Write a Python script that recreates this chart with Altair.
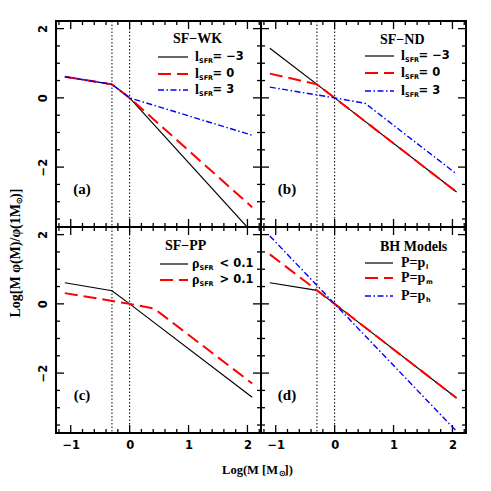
import altair as alt
import pandas as pd

# ---------------- data ----------------
X_DOMAIN = [-1.25, 2.23]
Y_DOMAIN = [-3.73, 2.22]
X_MAJOR = [-1, 0, 1, 2]
X_MINOR = [-1.2, -0.8, -0.6, -0.4, -0.2, 0.2, 0.4, 0.6, 0.8, 1.2, 1.4, 1.6, 1.8, 2.2]
Y_MAJOR = [-2, 0, 2]
Y_MINOR = [-3.5, -3, -2.5, -1.5, -1, -0.5, 0.5, 1, 1.5]
VLINES = [-0.3, 0.0]

# (a) SF-WK
A_BLACK_X = [-1.1, -0.3, 0.0, 2.08]
A_BLACK_Y = [0.61, 0.39, 0.0, -3.89]
A_RED_X = [-1.1, -0.3, 0.0, 2.08]
A_RED_Y = [0.61, 0.39, 0.0, -3.16]
A_BLUE_X = [-1.1, -0.3, 0.0, 2.08]
A_BLUE_Y = [0.61, 0.39, 0.0, -1.08]
# (b) SF-ND
B_BLACK_X = [-1.1, 0.0, 2.07]
B_BLACK_Y = [1.43, 0.0, -2.72]
B_RED_X = [-1.1, -0.3, 0.0, 2.07]
B_RED_Y = [0.70, 0.39, 0.0, -2.72]
B_BLUE_X = [-1.1, 0.0, 0.52, 2.07]
B_BLUE_Y = [0.31, 0.0, -0.16, -2.20]
# (c) SF-PP
C_BLACK_X = [-1.1, -0.3, 0.0, 2.08]
C_BLACK_Y = [0.61, 0.38, 0.0, -2.70]
C_RED_X = [-1.1, 0.0, 0.42, 2.08]
C_RED_Y = [0.31, 0.0, -0.14, -2.30]
# (d) BH Models
D_BLACK_X = [-1.1, -0.3, 0.0, 2.07]
D_BLACK_Y = [0.61, 0.39, 0.0, -2.72]
D_RED_X = [-1.1, 0.0, 2.07]
D_RED_Y = [1.43, 0.0, -2.72]
D_BLUE_X = [-1.1, 0.0, 2.08]
D_BLUE_Y = [1.96, 0.0, -3.70]

# ---------------- styling ----------------
W, H = 205, 206
SERIF = "Liberation Serif"
SANS = "DejaVu Sans"
STYLES = {
    "black": {"color": "black", "strokeWidth": 1.2},
    "red": {"color": "#ff0000", "strokeWidth": 2, "strokeDash": [13, 6]},
    "blue": {"color": "#0000ff", "strokeWidth": 1.4, "strokeDash": [6, 2.5, 1.5, 2.5]},
}
ONE = pd.DataFrame({"k": [0]})


def x_enc(show):
    if show:
        return alt.X("x:Q", title=None,
                     scale=alt.Scale(domain=X_DOMAIN, nice=False, zero=False),
                     axis=alt.Axis(values=X_MAJOR, ticks=False, tickSize=0, domain=False, grid=False,
                                   labelFont=SANS, labelFontWeight="bold", labelFontSize=11.5,
                                   labelColor="black", labelPadding=6, format="d",
                                   labelFlush=False, labelOverlap=False))
    return alt.X("x:Q", title=None, scale=alt.Scale(domain=X_DOMAIN, nice=False, zero=False), axis=None)


def y_enc(show):
    if show:
        return alt.Y("y:Q", title=None,
                     scale=alt.Scale(domain=Y_DOMAIN, nice=False, zero=False),
                     axis=alt.Axis(values=Y_MAJOR, ticks=False, tickSize=0, domain=False, grid=False,
                                   labelFont=SANS, labelFontWeight="bold", labelFontSize=11.5,
                                   labelColor="black", labelPadding=8, format="d",
                                   labelAngle=270, labelAlign="center", labelBaseline="bottom",
                                   labelFlush=False, labelOverlap=False))
    return alt.Y("y:Q", title=None, scale=alt.Scale(domain=Y_DOMAIN, nice=False, zero=False), axis=None)


def txt(text, x, y, font=SERIF, size=14, align="left", baseline="middle", angle=0):
    kw = dict(text=text, font=font, fontSize=size, fontWeight="bold", align=align,
              baseline=baseline, color="black")
    if angle:
        kw["angle"] = angle
    return alt.Chart(ONE).mark_text(**kw).encode(x=alt.value(x), y=alt.value(y))


def tick_layers(sx, sy):
    layers = []
    for vals, size in ((X_MAJOR, 16), (X_MINOR, 8)):
        df = pd.DataFrame({"x": vals * 2, "y": [Y_DOMAIN[0]] * len(vals) + [Y_DOMAIN[1]] * len(vals)})
        layers.append(alt.Chart(df).mark_tick(orient="vertical", size=size, thickness=1.3,
                                              color="black", opacity=1, clip=True)
                      .encode(x=x_enc(sx), y=y_enc(sy)))
    for vals, size in ((Y_MAJOR, 16), (Y_MINOR, 8)):
        df = pd.DataFrame({"y": vals * 2, "x": [X_DOMAIN[0]] * len(vals) + [X_DOMAIN[1]] * len(vals)})
        layers.append(alt.Chart(df).mark_tick(orient="horizontal", size=size, thickness=1.3,
                                              color="black", opacity=1, clip=True)
                      .encode(x=x_enc(sx), y=y_enc(sy)))
    return layers


def panel(series, legend, label, sx, sy, extra=()):
    layers = [alt.Chart(pd.DataFrame({"x": VLINES}))
              .mark_rule(color="black", strokeWidth=1, strokeDash=[1.5, 2])
              .encode(x=x_enc(sx))]
    layers += tick_layers(sx, sy)
    for name, xs, ys in series:
        df = pd.DataFrame({"x": xs, "y": ys})
        layers.append(alt.Chart(df).mark_line(clip=True, **STYLES[name])
                      .encode(x=x_enc(sx), y=y_enc(sy)))
    # legend
    title, tx, ty, lx0, lx1, px, rows = legend
    layers.append(txt(title, tx, ty, size=14))
    for name, yy, prefix, pfont, psize, sub, subdx, main, maindx in rows:
        layers.append(alt.Chart(ONE).mark_rule(**STYLES[name])
                      .encode(x=alt.value(lx0), x2=alt.value(lx1), y=alt.value(yy)))
        layers.append(txt(prefix, px, yy, font=pfont, size=psize))
        layers.append(txt(sub, px + subdx, yy + 3.5, font=SANS, size=6.5))
        if main:
            layers.append(txt(main, px + maindx, yy, font=SANS, size=11.5))
    layers.append(txt(label, 26, 168, size=15, align="center"))
    layers += list(extra)
    return alt.layer(*layers).properties(width=W, height=H)


pa = panel(
    [("black", A_BLACK_X, A_BLACK_Y), ("red", A_RED_X, A_RED_Y), ("blue", A_BLUE_X, A_BLUE_Y)],
    ("SF\u2212WK", 117, 18, 102, 132, 139,
     [("black", 36, "l", SERIF, 14, "SFR", 4, "= \u22123", 17.5),
      ("red", 53, "l", SERIF, 14, "SFR", 4, "= 0", 17.5),
      ("blue", 69, "l", SERIF, 14, "SFR", 4, "= 3", 17.5)]),
    "(a)", False, True)

pb = panel(
    [("black", B_BLACK_X, B_BLACK_Y), ("red", B_RED_X, B_RED_Y), ("blue", B_BLUE_X, B_BLUE_Y)],
    ("SF\u2212ND", 119, 19, 104, 133, 140,
     [("black", 35, "l", SERIF, 14, "SFR", 4, "= \u22123", 17.5),
      ("red", 52, "l", SERIF, 14, "SFR", 4, "= 0", 17.5),
      ("blue", 70, "l", SERIF, 14, "SFR", 4, "= 3", 17.5)]),
    "(b)", False, False)

# axis titles (placed relative to panel c)
y_title = [
    txt("Log[M \u03c6(M)/\u03c6(1M", -40, -23, size=14, align="right", angle=270),
    txt("\u2299", -36.5, -23, size=8, align="left", angle=270),
    txt(")]", -40, -29, size=14, align="left", angle=270),
]
x_title = [
    txt("Log(M [M", 222, 243, size=12.5, align="right"),
    txt("\u2299", 223, 246.5, size=7.5, align="left"),
    txt("])", 228.5, 243, size=12.5, align="left"),
]

pc = panel(
    [("black", C_BLACK_X, C_BLACK_Y), ("red", C_RED_X, C_RED_Y)],
    ("SF\u2212PP", 109, 19, 104, 132, 136,
     [("black", 37, "\u03c1", SERIF, 14, "SFR", 7.5, "< 0.1", 27.5),
      ("red", 53, "\u03c1", SERIF, 14, "SFR", 7.5, "> 0.1", 27.5)]),
    "(c)", True, True, extra=y_title + x_title)

pd_ = panel(
    [("black", D_BLACK_X, D_BLACK_Y), ("red", D_RED_X, D_RED_Y), ("blue", D_BLUE_X, D_BLUE_Y)],
    ("BH Models", 119, 20, 104, 132, 140,
     [("black", 36, "P=p", SERIF, 14, "l", 25, "", 30),
      ("red", 51, "P=p", SERIF, 14, "m", 25, "", 30),
      ("blue", 69, "P=p", SERIF, 14, "h", 25, "", 30)]),
    "(d)", True, False)

chart = (alt.concat(pa, pb, pc, pd_, columns=2, spacing=0, bounds="flush")
         .properties(padding={"top": 11, "left": 0, "right": 0, "bottom": 0}, background="white")
         .configure_view(stroke="black", strokeWidth=2))

chart.save("out.html", embed_options={"renderer": "svg", "actions": False})
